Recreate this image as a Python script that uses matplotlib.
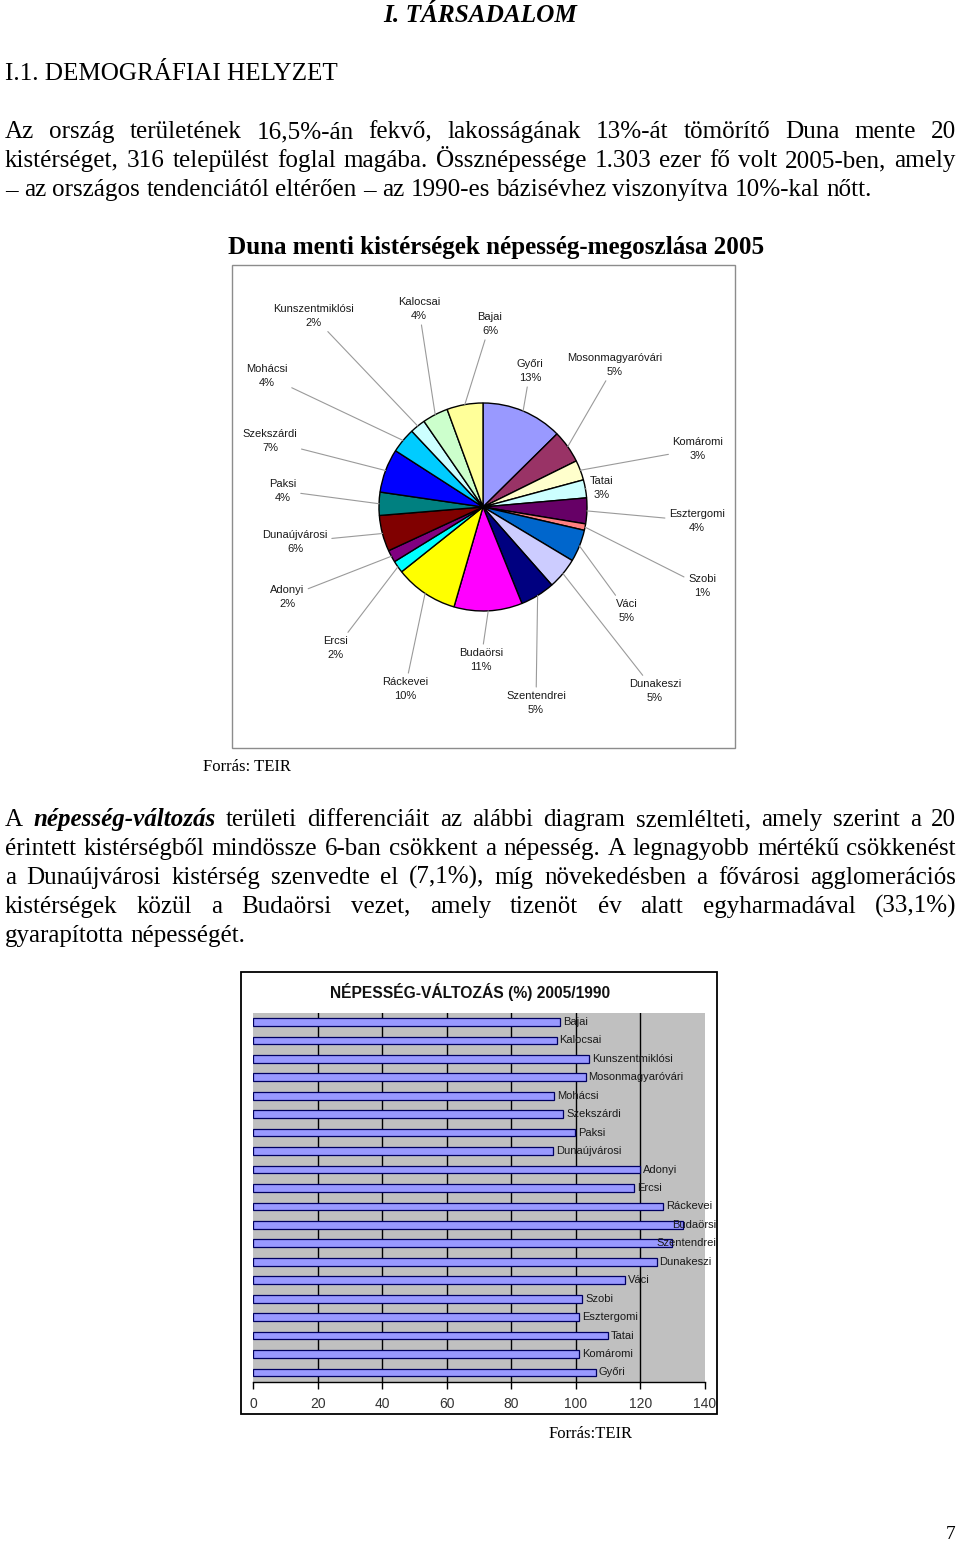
import numpy as np
import matplotlib
matplotlib.use("Agg")
import matplotlib.pyplot as plt
from matplotlib.patches import Rectangle

# ---------------- data ----------------
pie_names = ["Győri", "Mosonmagyaróvári", "Komáromi", "Tatai", "Esztergomi", "Szobi",
             "Váci", "Dunakeszi", "Szentendrei", "Budaörsi", "Ráckevei", "Ercsi",
             "Adonyi", "Dunaújvárosi", "Paksi", "Szekszárdi", "Mohácsi",
             "Kunszentmiklósi", "Kalocsai", "Bajai"]
pie_shares = [12.6, 5.1, 3.1, 2.8, 4.0, 1.0, 5.0, 4.9, 5.4, 10.6, 9.8, 1.9,
              1.9, 5.6, 3.6, 6.8, 3.9, 2.4, 4.0, 5.6]
pie_colors = ["#9999FF", "#993366", "#FFFFCC", "#CCFFFF", "#660066", "#FF8080",
              "#0066CC", "#CCCCFF", "#000080", "#FF00FF", "#FFFF00", "#00FFFF",
              "#800080", "#800000", "#008080", "#0000FF", "#00CCFF",
              "#CCFFFF", "#CCFFCC", "#FFFF99"]

bar_names = ["Bajai", "Kalocsai", "Kunszentmiklósi", "Mosonmagyaróvári", "Mohácsi",
             "Szekszárdi", "Paksi", "Dunaújvárosi", "Adonyi", "Ercsi", "Ráckevei",
             "Budaörsi", "Szentendrei", "Dunakeszi", "Váci", "Szobi", "Esztergomi",
             "Tatai", "Komáromi", "Győri"]
bar_values = [95.1, 94.0, 104.1, 103.0, 93.2, 96.1, 99.6, 92.9, 119.9, 118.0, 127.1,
              133.1, 129.9, 125.0, 115.2, 102.0, 101.0, 110.0, 101.0, 106.1]
bar_ticks = [0, 20, 40, 60, 80, 100, 120, 140]

# ---------------- layout ----------------
W, H = 960, 1541
fig = plt.figure(figsize=(W / 100, H / 100), dpi=100)
fig.patch.set_facecolor("white")
R = fig.canvas.get_renderer()
SERIF = ["Liberation Serif", "DejaVu Serif"]
SANS = ["Liberation Sans", "DejaVu Sans"]


def fx(x):
    return x / W


def fy(y):
    return 1 - y / H


def text_width(s, size, family, weight="normal", style="normal"):
    t = fig.text(0, 0, s, fontsize=size, family=family, fontweight=weight, fontstyle=style)
    w = t.get_window_extent(R).width
    t.remove()
    return w


def fit_size(s, target, family, weight="normal", style="normal"):
    return 20 * target / text_width(s, 20, family, weight, style)


def put(s, x, y, size, family=SERIF, weight="normal", style="normal", ha="left", **kw):
    return fig.text(fx(x), fy(y), s, fontsize=size, family=family, fontweight=weight,
                    fontstyle=style, ha=ha, va="baseline", **kw)


def line_words(line):
    out = []
    for w in line.split(" "):
        if w.startswith("*") and w.endswith("*"):
            out.append((w.strip("*"), "bold", "italic"))
        else:
            out.append((w, "normal", "normal"))
    return out


def justify(line, y, x0, x1, size, last=False):
    words = line_words(line)
    arts, widths = [], []
    for w, wt, st in words:
        t = fig.text(0, 0, w, fontsize=size, family=SERIF, fontweight=wt, fontstyle=st,
                     va="baseline", ha="left")
        widths.append(t.get_window_extent(R).width)
        arts.append(t)
    if last or len(words) == 1:
        gap = text_width("a b", size, SERIF) - text_width("ab", size, SERIF)
    else:
        gap = (x1 - x0 - sum(widths)) / (len(words) - 1)
    x = x0
    for t, w in zip(arts, widths):
        t.set_position((fx(x), fy(y)))
        x += w + gap


# headings
s = fit_size("I. TÁRSADALOM", 193, SERIF, "bold", "italic")
put("I. TÁRSADALOM", 383, 22, s, weight="bold", style="italic")
s = fit_size("I.1. DEMOGRÁFIAI HELYZET", 333, SERIF)
put("I.1. DEMOGRÁFIAI HELYZET", 5, 80, s)

# paragraph 1
p1 = ["Az ország területének 16,5%-án fekvő, lakosságának 13%-át tömörítő Duna mente 20",
      "kistérséget, 316 települést foglal magába. Össznépessége 1.303 ezer fő volt 2005-ben, amely",
      "– az országos tendenciától eltérően – az 1990-es bázisévhez viszonyítva 10%-kal nőtt."]
s1 = fit_size(p1[2], 867, SERIF)
for i, ln in enumerate(p1):
    justify(ln, 138 + 29 * i, 5, 956, s1, last=(i == len(p1) - 1))

# pie title
pt = "Duna menti kistérségek népesség-megoszlása 2005"
s = fit_size(pt, 538, SERIF, "bold")
put(pt, 228, 254, s, weight="bold")

# pie frame
fig.patches.append(Rectangle((fx(232), fy(748)), fx(735) - fx(232), fy(265) - fy(748),
                             transform=fig.transFigure, fill=False, edgecolor="#8c8c8c", lw=1.0))

# pie
cx, cy, r = 483, 507, 104
axp = fig.add_axes([fx(cx - r), fy(cy + r), 2 * r / W, 2 * r / H])
wedges, _ = axp.pie(pie_shares, colors=pie_colors, startangle=90, counterclock=False,
                    wedgeprops=dict(edgecolor="black", linewidth=1.0))
axp.set_xlim(-1, 1)
axp.set_ylim(-1, 1)
axp.axis("off")

label_pos = {
    "Kunszentmiklósi": (313, 316), "Kalocsai": (419, 309), "Bajai": (490, 324),
    "Mohácsi": (267, 376), "Győri": (530, 371), "Mosonmagyaróvári": (615, 365),
    "Szekszárdi": (270, 441), "Komáromi": (698, 449), "Paksi": (283, 491),
    "Tatai": (602, 488), "Esztergomi": (697, 521), "Dunaújvárosi": (295, 542),
    "Adonyi": (287, 597), "Szobi": (702, 586), "Váci": (627, 611),
    "Ercsi": (336, 648), "Budaörsi": (481, 660), "Ráckevei": (405, 689),
    "Szentendrei": (536, 703), "Dunakeszi": (655, 691),
}
for wdg, name, val in zip(wedges, pie_names, pie_shares):
    mid = np.deg2rad((wdg.theta1 + wdg.theta2) / 2)
    lx, ly = label_pos[name]
    axp.annotate(f"{name}\n{round(val)}%", xy=(np.cos(mid), np.sin(mid)), xycoords="data",
                 xytext=(fx(lx), fy(ly)), textcoords="figure fraction",
                 ha="center", va="center", multialignment="center",
                 fontsize=8, family=SANS, color="#1a1a1a", linespacing=1.45,
                 annotation_clip=False,
                 arrowprops=dict(arrowstyle="-", color="#9a9a9a", lw=0.8,
                                 shrinkA=1, shrinkB=0))

s = fit_size("Forrás: TEIR", 88, SERIF)
put("Forrás: TEIR", 203, 771, s)

# paragraph 2
p2 = ["A *népesség-változás* területi differenciáit az alábbi diagram szemlélteti, amely szerint a 20",
      "érintett kistérségből mindössze 6-ban csökkent a népesség. A legnagyobb mértékű csökkenést",
      "a Dunaújvárosi kistérség szenvedte el (7,1%), míg növekedésben a fővárosi agglomerációs",
      "kistérségek közül a Budaörsi vezet, amely tizenöt év alatt egyharmadával (33,1%)",
      "gyarapította népességét."]
s2 = fit_size(p2[-1], 240, SERIF)
for ln in p2[:-1]:
    nat = sum(text_width(w, s2, SERIF, wt, st) for w, wt, st in line_words(ln))
    nw = len(ln.split(" ")) - 1
    sp = text_width("a b", s2, SERIF) - text_width("ab", s2, SERIF)
    if nat + nw * sp * 0.8 > 951:
        s2 = s2 * 951 / (nat + nw * sp * 0.8)
for i, ln in enumerate(p2):
    justify(ln, 826 + 29 * i, 5, 956, s2, last=(i == len(p2) - 1))

# bar chart frame
fig.patches.append(Rectangle((fx(241), fy(1414)), fx(717) - fx(241), fy(972) - fy(1414),
                             transform=fig.transFigure, fill=False, edgecolor="black", lw=1.3))
bt = "NÉPESSÉG-VÁLTOZÁS (%) 2005/1990"
s = fit_size(bt, 282, SANS, "bold")
put(bt, 330, 998, s, family=SANS, weight="bold", color="#111111")

x0p, x1p, y0p, y1p = 253.3, 705, 1012.7, 1381.7
axb = fig.add_axes([fx(x0p), fy(y1p), (x1p - x0p) / W, (y1p - y0p) / H])
axb.set_facecolor("#C0C0C0")
ypos = np.arange(len(bar_names))
axb.barh(ypos, bar_values, height=0.42, color="#9999FF", edgecolor="#000060", lw=0.9, zorder=3)
axb.set_xlim(0, 140)
axb.set_ylim(len(bar_names) - 0.5, -0.5)
axb.set_xticks(bar_ticks)
axb.set_xticklabels([str(t) for t in bar_ticks], fontsize=10, family=SANS, color="#333333")
axb.set_yticks([])
for t in bar_ticks[1:-1]:
    axb.axvline(t, color="black", lw=1.0, zorder=1)
for sp_name in ["top", "right", "left"]:
    axb.spines[sp_name].set_visible(False)
axb.spines["bottom"].set_color("black")
axb.spines["bottom"].set_linewidth(1.0)
axb.tick_params(axis="x", direction="out", length=5, width=1.0, color="black", pad=6)

ppu = (x1p - x0p) / 140
for yv, name, val in zip(ypos, bar_names, bar_values):
    w = text_width(name, 8, SANS)
    xl = min(x0p + val * ppu + 3, 716 - w)
    axb.text((xl - x0p) / ppu, yv, name, fontsize=8, family=SANS, color="#1a1a1a",
             ha="left", va="center", zorder=4, clip_on=False)

s = fit_size("Forrás:TEIR", 84, SERIF)
put("Forrás:TEIR", 549, 1438, s)
put("7", 946, 1539, 14)

fig.savefig("out.png", dpi=100, facecolor="white")
